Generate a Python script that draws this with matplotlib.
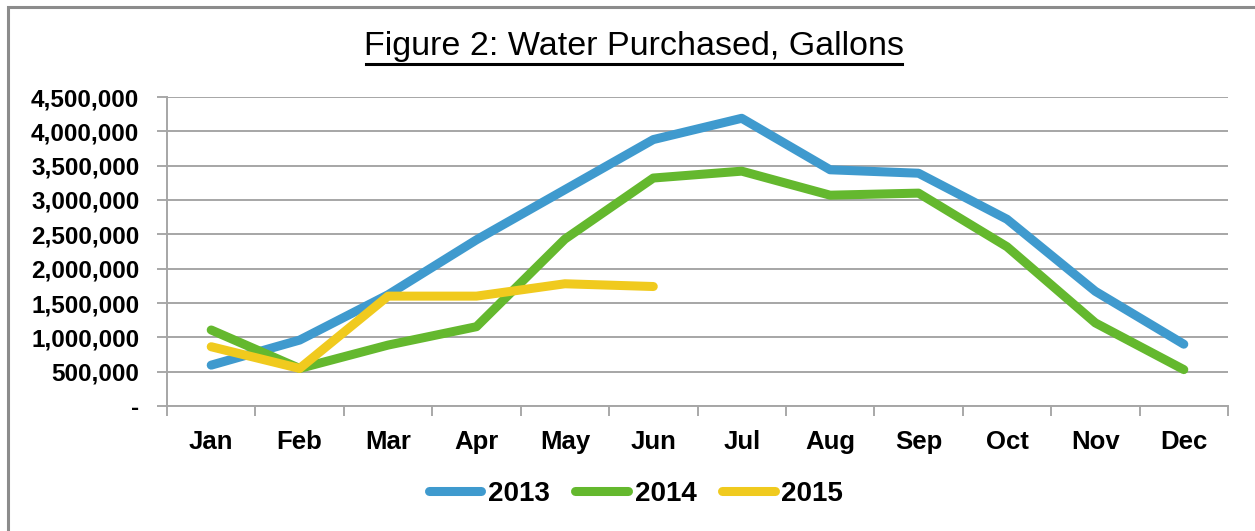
# Figure 2: water purchased per month, 2013-2015
import numpy as np
import matplotlib.pyplot as plt
from matplotlib.ticker import FuncFormatter, FixedLocator
from matplotlib.lines import Line2D

plt.rcParams['font.family'] = ['Liberation Sans', 'DejaVu Sans']

months = ['Jan', 'Feb', 'Mar', 'Apr', 'May', 'Jun',
          'Jul', 'Aug', 'Sep', 'Oct', 'Nov', 'Dec']
gal_2013 = [595000, 960000, 1620000, 2420000, 3150000, 3880000,
            4190000, 3440000, 3390000, 2720000, 1670000, 900000]
gal_2014 = [1107000, 547000, 887000, 1155000, 2430000, 3320000,
            3420000, 3070000, 3100000, 2320000, 1210000, 530000]
gal_2015 = [863000, 547000, 1600000, 1600000, 1780000, 1740000]

colors = {'2013': '#3F9ACE', '2014': '#64B82E', '2015': '#F0CA1E'}

fig = plt.figure(figsize=(12.55, 5.31), dpi=100)
ax = fig.add_axes([167/1255, 1-406/531, (1228-167)/1255, (406-97)/531])

x = np.arange(len(months))
ax.plot(x, gal_2013, color=colors['2013'], lw=6.5, solid_capstyle='round', solid_joinstyle='round', zorder=3)
ax.plot(x, gal_2014, color=colors['2014'], lw=6.5, solid_capstyle='round', solid_joinstyle='round', zorder=4)
ax.plot(x[:len(gal_2015)], gal_2015, color=colors['2015'], lw=6.5, solid_capstyle='round', solid_joinstyle='round', zorder=5)

ax.set_xlim(-0.5, 11.5)
ax.set_ylim(0, 4500000)

# y axis: gridlines every 500,000, zero shown as dash
ax.set_yticks(np.arange(0, 4500001, 500000))
ax.yaxis.set_major_formatter(FuncFormatter(lambda v, p: '-' if v == 0 else f'{v:,.0f}'))
ax.grid(axis='y', color='#A6A6A6', lw=1.4, zorder=0)
ax.tick_params(axis='y', length=7, width=1.2, color='#999999', pad=13,
               labelsize=17.5)
for t in ax.get_yticklabels():
    t.set_fontweight('bold')

# x axis: labels centred, ticks between categories
ax.set_xticks(x)
ax.set_xticklabels(months, fontsize=18.5, fontweight='bold')
ax.tick_params(axis='x', which='major', length=0, pad=17)
ax.xaxis.set_minor_locator(FixedLocator(np.arange(-0.5, 12, 1)))
ax.tick_params(axis='x', which='minor', length=7, width=1.2, color='#999999')

for s in ['top', 'right']:
    ax.spines[s].set_visible(False)
for s in ['left', 'bottom']:
    ax.spines[s].set_color('#A6A6A6')
    ax.spines[s].set_linewidth(1.4)

# title with underline
fig.text(634/1255, 1-47/531, 'Figure 2: Water Purchased, Gallons', ha='center', va='center',
         fontsize=24.5)
fig.add_artist(Line2D([366/1255, 902/1255], [1-64/531, 1-64/531], color='black', lw=2.2))

# legend
handles = [Line2D([], [], color=colors[k], lw=6.5, solid_capstyle='round') for k in colors]
fig.legend(handles, list(colors), loc='center', bbox_to_anchor=(636/1255, 1-494/531),
           ncol=3, frameon=False, prop={'size': 20, 'weight': 'bold'},
           handlelength=1.9, handletextpad=0.25, columnspacing=0.9)

# outer chart border
fig.add_artist(plt.Rectangle((8/1255, -0.2), 1.2, 1.2 - 7/531, fill=False,
                             edgecolor='#8C8C8C', lw=2.2))

fig.savefig('out.png', dpi=100)
